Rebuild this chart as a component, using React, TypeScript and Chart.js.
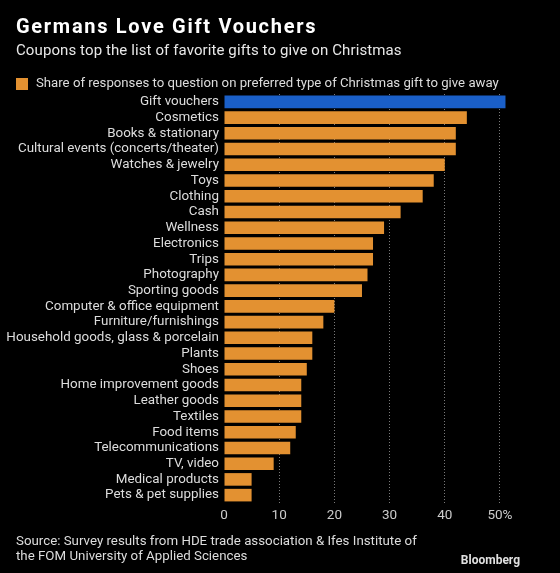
import React, { useEffect, useRef } from "react";
import { Chart, registerables } from "chart.js";

Chart.register(...registerables);

const categories = [
  "Gift vouchers",
  "Cosmetics",
  "Books & stationary",
  "Cultural events (concerts/theater)",
  "Watches & jewelry",
  "Toys",
  "Clothing",
  "Cash",
  "Wellness",
  "Electronics",
  "Trips",
  "Photography",
  "Sporting goods",
  "Computer & office equipment",
  "Furniture/furnishings",
  "Household goods, glass & porcelain",
  "Plants",
  "Shoes",
  "Home improvement goods",
  "Leather goods",
  "Textiles",
  "Food items",
  "Telecommunications",
  "TV, video",
  "Medical products",
  "Pets & pet supplies",
];

const shares = [51, 44, 42, 42, 40, 38, 36, 32, 29, 27, 27, 26, 25, 20, 18, 16, 16, 15, 14, 14, 14, 13, 12, 9, 5, 5];

const xTicks = [0, 10, 20, 30, 40, 50];

const title = "Germans Love Gift Vouchers";
const subtitle = "Coupons top the list of favorite gifts to give on Christmas";
const legendLabel = "Share of responses to question on preferred type of Christmas gift to give away";
const sourceLines = [
  "Source: Survey results from HDE trade association & Ifes Institute of",
  "the FOM University of Applied Sciences",
];
const brand = "Bloomberg";

const ORANGE = "#e39131";
const BLUE = "#1a5fc8";
const FONT = "Roboto, 'Liberation Sans', sans-serif";

export default function App() {
  const ref = useRef<HTMLCanvasElement | null>(null);

  useEffect(() => {
    document.body.style.margin = "0";
    document.body.style.background = "#000";
    const canvas = ref.current;
    if (!canvas) return;

    const textPlugin = {
      id: "bbgText",
      beforeDraw(chart: any) {
        const ctx = chart.ctx;
        ctx.save();
        ctx.fillStyle = "#000";
        ctx.fillRect(0, 0, chart.width, chart.height);
        ctx.restore();
      },
      afterDraw(chart: any) {
        const ctx = chart.ctx;
        ctx.save();
        ctx.textBaseline = "alphabetic";
        ctx.textAlign = "left";
        ctx.fillStyle = "#ffffff";
        ctx.font = `bold 20px ${FONT}`;
        (ctx as any).letterSpacing = "1.7px";
        ctx.fillText(title, 16, 33);
        (ctx as any).letterSpacing = "0.1px";
        ctx.fillStyle = "#e8e8e8";
        ctx.font = `15px ${FONT}`;
        ctx.fillText(subtitle, 16, 55);
        (ctx as any).letterSpacing = "0px";
        ctx.fillStyle = ORANGE;
        ctx.fillRect(16, 78, 12, 12);
        ctx.fillStyle = "#dddddd";
        ctx.font = `13.2px ${FONT}`;
        ctx.fillText(legendLabel, 36, 87);
        ctx.font = `13.3px ${FONT}`;
        ctx.fillText(sourceLines[0], 16, 545);
        ctx.fillText(sourceLines[1], 16, 560);
        ctx.fillStyle = "#e0e0e0";
        ctx.font = `bold 12px ${FONT}`;
        ctx.textAlign = "right";
        ctx.fillText(brand, 520, 564);
        ctx.restore();
      },
    };

    const chart = new Chart(canvas, {
      type: "bar",
      data: {
        labels: categories,
        datasets: [
          {
            label: legendLabel,
            data: shares,
            backgroundColor: shares.map((_, i) => (i === 0 ? BLUE : ORANGE)),
            barPercentage: 0.8,
            categoryPercentage: 1,
            borderWidth: 0,
          },
        ],
      },
      options: {
        indexAxis: "y",
        responsive: false,
        animation: false,
        layout: { padding: { top: 94, bottom: 40, left: 0, right: 49 } },
        plugins: {
          legend: { display: false },
          title: { display: false },
          tooltip: { enabled: false },
        },
        scales: {
          x: {
            type: "linear",
            min: 0,
            max: 52,
            afterBuildTicks: (scale: any) => {
              scale.ticks = xTicks.map((v) => ({ value: v }));
            },
            afterFit: (scale: any) => {
              scale.height = 30;
            },
            ticks: {
              color: "#cccccc",
              font: { family: FONT, size: 13.5 },
              padding: 5,
              callback: (v: any) => (v === 50 ? "50%" : String(v)),
            },
            grid: {
              color: (c: any) => (c.tick && c.tick.value === 0 ? "rgba(0,0,0,0)" : "#7a7a7a"),
              lineWidth: 1,
              drawTicks: false,
            },
            border: { display: false, dash: [1, 2] },
          },
          y: {
            afterFit: (scale: any) => {
              scale.width = 224;
            },
            ticks: {
              color: "#dddddd",
              font: { family: FONT, size: 13.4 },
              padding: 5,
              autoSkip: false,
            },
            grid: { display: false, drawTicks: false },
            border: { display: false },
          },
        },
      },
      plugins: [textPlugin],
    });

    return () => chart.destroy();
  }, []);

  return (
    <div style={{ position: "absolute", left: 0, top: 0, width: 560, height: 573, background: "#000" }}>
      <canvas ref={ref} width={560} height={573} style={{ display: "block", width: 560, height: 573 }} />
    </div>
  );
}
